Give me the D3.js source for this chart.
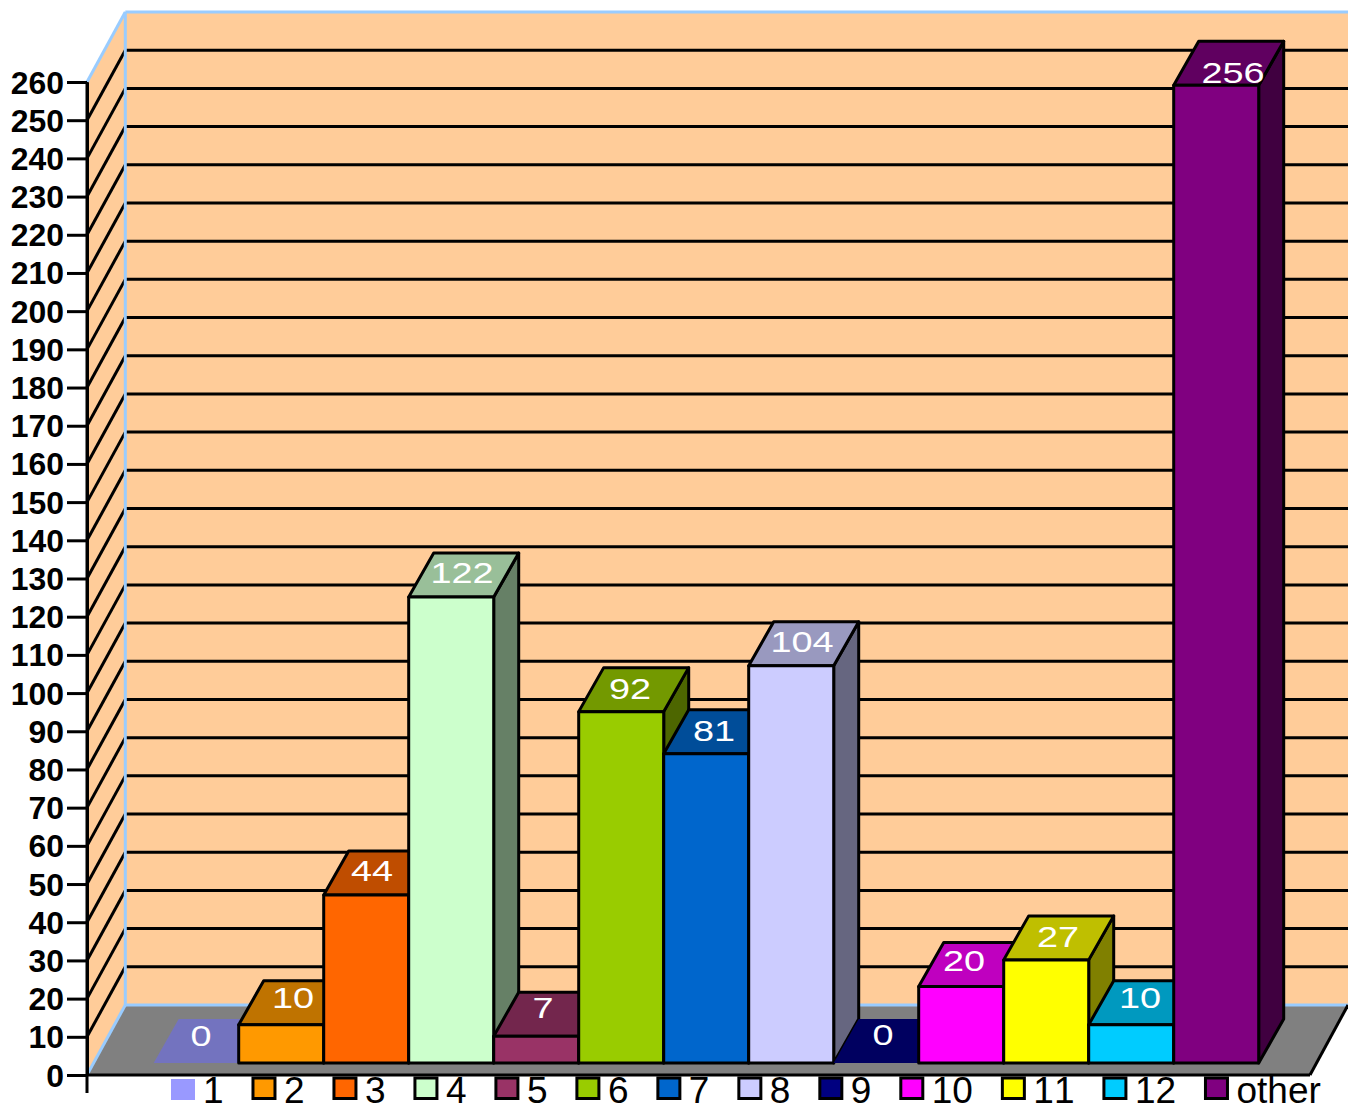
<!DOCTYPE html>
<html><head><meta charset="utf-8">
<script src="https://cdn.jsdelivr.net/npm/d3@7"></script>
<style>html,body{margin:0;padding:0;background:#fff;overflow:hidden}svg{display:block}text{font-family:"Liberation Sans",Arial,sans-serif;font-kerning:none}</style>
</head><body><svg id="c" width="1348" height="1103"></svg>
<script>
const categories = ["1","2","3","4","5","6","7","8","9","10","11","12","other"];
const values = [0,10,44,122,7,92,81,104,0,20,27,10,256];
const colors = ["#9999ff","#ff9900","#ff6600","#ccffcc","#993366","#99cc00","#0066cc","#ccccff","#000080","#ff00ff","#ffff00","#00ccff","#800080"];
const tickValues = d3.range(0,261,10);
// small hand offsets of the value labels, in pixels
const labelDx = [-6.7,0.3,-5.7,-0.7,-4.7,-2.7,-3.7,-0.7,-4.7,-8.7,0.3,-2.7,5.3];
const labelDy = [-3,-3,0,0,-4,1,1,0,-4,-2,1,-3,12];

const svg = d3.select("#c");
const y = d3.scaleLinear().domain([0,260]).range([1075,82]);
const x = d3.scaleBand().domain(categories).range([153.7,1258.7]);
const wall = {dx:38.3, dy:-70}, depth = {dx:25, dy:-44}, barLift = 12;
const left = 87, floorRight = 1310, W = 1348;
const blue = "#99ccff", ink = "#000";
const poly = (pts,fill,stroke) => svg.append("polygon").attr("points",pts.map(p=>p.join(",")).join(" "))
  .attr("fill",fill).attr("stroke",stroke||"none").attr("stroke-width",stroke?3:0).attr("stroke-linejoin","round");
const line = (a,b,c,w=3) => svg.append("line").attr("x1",a[0]).attr("y1",a[1]).attr("x2",b[0]).attr("y2",b[1]).attr("stroke",c).attr("stroke-width",w);

// walls + floor
const bx = left+wall.dx, by0 = y(0)+wall.dy, byT = y(260)+wall.dy;
svg.append("rect").attr("x",bx).attr("y",byT).attr("width",W-bx).attr("height",by0-byT).attr("fill","#ffcc99");
poly([[left,y(0)],[bx,by0],[bx,byT],[left,y(260)]],"#ffcc99");
poly([[left,y(0)],[floorRight,y(0)],[W,by0],[bx,by0]],"#808080");
// gridlines
tickValues.filter(v=>v>0&&v<260).forEach(v=>{
  line([left,y(v)],[bx,y(v)+wall.dy],ink);
  line([bx,y(v)+wall.dy],[W,y(v)+wall.dy],ink);
});
// blue edges
line([bx,byT],[W,byT],blue,3); line([bx,byT],[bx,by0],blue,3);
line([left,y(260)],[bx,byT],blue,3); line([left,y(0)],[bx,by0],blue,3); line([bx,by0],[W,by0],blue,3);
// floor front
line([floorRight,y(0)],[W,by0],ink);

// axis
const ag = svg.append("g").attr("transform",`translate(${left},0)`)
  .call(d3.axisLeft(y).tickValues(tickValues).tickSize(20).tickSizeOuter(0).tickFormat(d3.format("d")));
ag.select(".domain").attr("stroke",ink).attr("stroke-width",3);
ag.selectAll(".tick line").attr("stroke",ink).attr("stroke-width",3);
ag.selectAll(".tick text").attr("x",0).attr("dy",null).attr("y",11).attr("transform","translate(-23,0) scale(1.03,1)")
  .attr("fill",ink).style("font-size","31px").style("font-weight","bold").style("font-family",'"Liberation Sans",Arial,sans-serif');
line([left,y(0)],[floorRight,y(0)],ink);
line([left,y(260)],[left,1093],ink);

// bars
const shade = (c,k)=>{const r=d3.rgb(c);return d3.rgb(r.r*k,r.g*k,r.b*k).formatHex();};
categories.forEach((cat,i)=>{
  const v = values[i], c = colors[i], x0 = x(cat), x1 = x0+x.bandwidth();
  const yb = y(0)-barLift, yt = y(v)-barLift;
  const s = i===0 ? null : ink;
  if(v>0){
    poly([[x1,yb],[x1+depth.dx,yb+depth.dy],[x1+depth.dx,yt+depth.dy],[x1,yt]],shade(c,0.5),s);
  }
  poly([[x0,yt],[x1,yt],[x1+depth.dx,yt+depth.dy],[x0+depth.dx,yt+depth.dy]],shade(c,0.75),i===0||v===0?null:s);
  if(v>0) poly([[x0,yb],[x1,yb],[x1,yt],[x0,yt]],c,s);
});
// value labels (drawn above all bars)
categories.forEach((cat,i)=>{
  const v = values[i];
  const cx = x(cat)+54+labelDx[i], by = y(v)-barLift-14+labelDy[i];
  svg.append("text").attr("transform",`translate(${cx},${by}) scale(1.28,1)`).attr("text-anchor","middle")
    .attr("fill","#fff").style("font-size","29.6px").text(v);
});

// legend
const legend = svg.append("g");
let lx = 171;
categories.forEach((cat,i)=>{
  if(i===0) legend.append("rect").attr("x",lx).attr("y",1079).attr("width",24).attr("height",21).attr("fill",colors[i]);
  else legend.append("rect").attr("x",lx+1).attr("y",1078).attr("width",22).attr("height",20.5).attr("fill",colors[i]).attr("stroke",ink).attr("stroke-width",3);
  const t = legend.append("text").attr("x",lx+32).attr("y",1103).attr("fill",ink).style("font-size","37px").text(cat);
  lx += 60.4 + t.node().getComputedTextLength();
});
</script></body></html>
